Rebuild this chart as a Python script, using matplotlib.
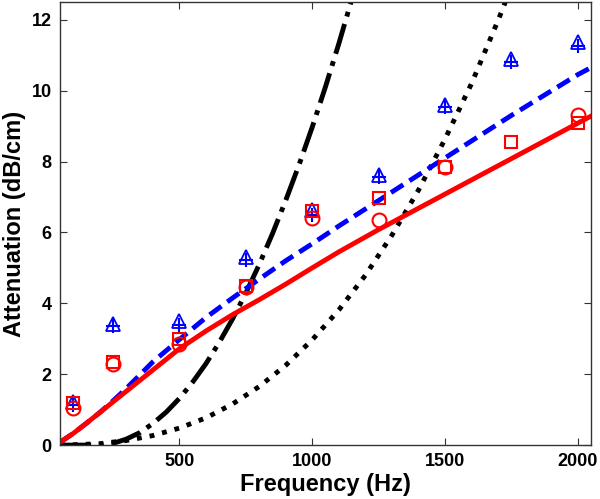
import numpy as np
import matplotlib
matplotlib.use("Agg")
import matplotlib.pyplot as plt

plt.rcParams["font.family"] = ["Liberation Sans", "DejaVu Sans"]
plt.rcParams["font.weight"] = "bold"

# measured points
f_meas = [100, 250, 500, 750, 1000, 1250, 1500, 1750, 2000]
tri_vals = [1.22, 3.42, 3.5, 5.3, 6.62, 7.62, 9.6, 10.88, 11.38]
plus_vals = [1.12, 3.35, 3.4, 5.22, 6.5, 7.55, 9.55, 10.82, 11.25]
sq_vals = [1.18, 2.35, 3.0, 4.5, 6.6, 6.97, 7.85, 8.55, 9.1]
f_circ = [100, 250, 500, 750, 1000, 1250, 1500, 2000]
circ_vals = [1.05, 2.3, 2.85, 4.45, 6.4, 6.36, 7.85, 9.3]

# model curves
f_red = [50, 100, 150, 200, 250, 300, 400, 500, 600, 700, 800, 900, 1000, 1100, 1250, 1500, 1750, 2000, 2050]
red_vals = [0.08, 0.33, 0.62, 0.92, 1.22, 1.52, 2.12, 2.72, 3.22, 3.68, 4.1, 4.54, 5.0, 5.45, 6.08, 7.08, 8.08, 9.08, 9.28]
f_blue = [50, 100, 150, 200, 250, 300, 400, 500, 600, 700, 800, 900, 1000, 1100, 1250, 1500, 1750, 2000, 2050]
blue_vals = [0.08, 0.33, 0.62, 0.92, 1.25, 1.6, 2.35, 2.98, 3.6, 4.15, 4.68, 5.2, 5.68, 6.18, 6.9, 8.1, 9.3, 10.45, 10.65]
f_dashdot = [50, 150, 200, 250, 300, 350, 400, 450, 500, 550, 600, 650, 700, 750, 800,
             850, 900, 950, 1000, 1050, 1100, 1150, 1200]
dashdot_vals = [0.0, 0.0, 0.0, 0.05, 0.17, 0.35, 0.61, 0.93, 1.32, 1.78, 2.3, 2.9, 3.56, 4.29, 5.09,
                5.96, 6.9, 7.9, 8.97, 10.11, 11.32, 12.6, 13.94]
f_dot = [50, 100, 200, 300, 400, 500, 600, 700, 800, 900, 1000, 1100, 1200, 1300, 1400, 1500, 1600, 1700, 1750]
dot_vals = [0.0, 0.01, 0.04, 0.13, 0.27, 0.48, 0.77, 1.16, 1.65, 2.25, 2.97, 3.81, 4.79, 5.92, 7.19, 8.63, 10.2, 11.98, 12.93]

fig = plt.figure(figsize=(6.0, 4.99), dpi=100)
ax = fig.add_axes([0.1, 0.108, 0.885, 0.888])

ax.plot(f_dashdot, dashdot_vals, color="black", linestyle="-.", linewidth=3.5)
ax.plot(f_dot, dot_vals, color="black", linestyle=":", linewidth=3.5)
ax.plot(f_blue, blue_vals, color="blue", linestyle="--", linewidth=3.5, dashes=(3, 1.5))
ax.plot(f_red, red_vals, color="red", linestyle="-", linewidth=3.5)

ax.plot(f_meas, tri_vals, linestyle="none", marker="^", markersize=10,
        markerfacecolor="none", markeredgecolor="blue", markeredgewidth=1.3)
ax.plot(f_meas, plus_vals, linestyle="none", marker="+", markersize=10,
        color="blue", markeredgewidth=1.5)
ax.plot(f_meas, sq_vals, linestyle="none", marker="s", markersize=9,
        markerfacecolor="none", markeredgecolor="red", markeredgewidth=1.5)
ax.plot(f_circ, circ_vals, linestyle="none", marker="o", markersize=10,
        markerfacecolor="none", markeredgecolor="red", markeredgewidth=1.5)

ax.set_xlim(50, 2050)
ax.set_ylim(0, 12.5)
ax.set_xticks([500, 1000, 1500, 2000])
ax.set_yticks([0, 2, 4, 6, 8, 10, 12])
ax.tick_params(direction="in", top=True, right=True, labelsize=13, length=5, color="#333333", pad=6)
for s in ax.spines.values():
    s.set_color("#333333")
    s.set_linewidth(1.0)

ax.set_xlabel("Frequency (Hz)", fontsize=17, fontweight="bold", labelpad=2)
ax.set_ylabel("Attenuation (dB/cm)", fontsize=17, fontweight="bold", labelpad=4)

fig.savefig("out.png", dpi=100)
